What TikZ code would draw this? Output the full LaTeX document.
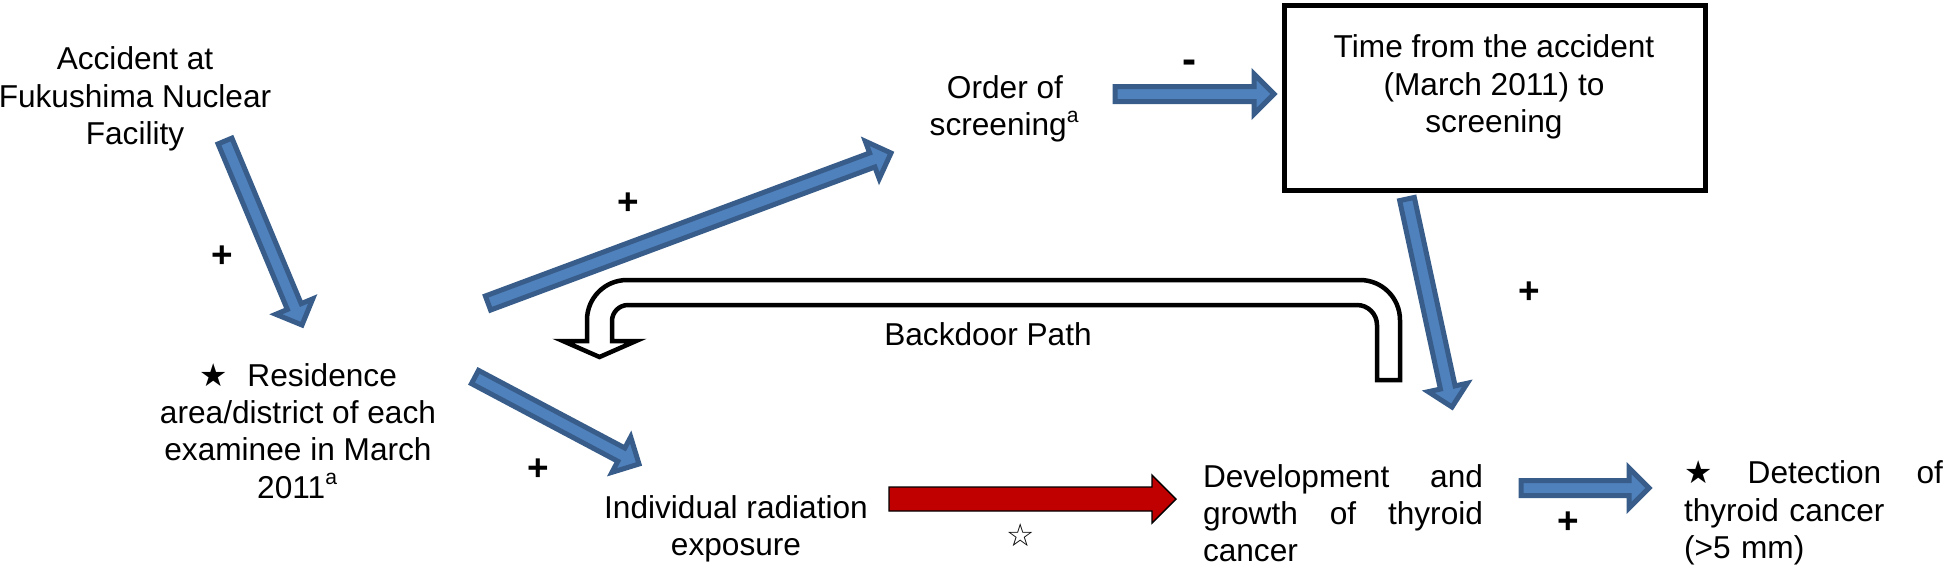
\documentclass[tikz,border=0pt]{standalone}
\usepackage{fontspec}
\setmainfont{Liberation Sans}
\newfontfamily\starfont{DejaVu Sans}
\usetikzlibrary{calc}
\definecolor{arrowblue}{RGB}{79,129,189}
\definecolor{arrowedge}{RGB}{56,93,138}
\definecolor{arrowred}{RGB}{192,0,0}
\newcommand{\blockarrow}[5] % style, tail, tip, shaft half width, head half width
{
	% head base
	\coordinate (hb) at ($(#3)!#5!(#2)$);
	% shaft and head
	\draw[#1] ($(#2)!#4!90:(#3)$) -- ($(hb)!#4!90:(#3)$) -- ($(hb)!#5!90:(#3)$) -- (#3)
		-- ($(hb)!#5!-90:(#3)$) -- ($(hb)!#4!-90:(#3)$) -- ($(#2)!#4!-90:(#3)$) -- cycle;
}

\begin{document}
\begin{tikzpicture}[x=0.1mm, y=-0.1mm,
	txt/.style={inner sep=0pt, align=center, font=\fontsize{9}{10.6}\selectfont},
	sign/.style={inner sep=0pt, font=\fontsize{10.5}{10.5}\bfseries},
	bluearrow/.style={fill=arrowblue, draw=arrowedge, line width=0.5mm},
	redarrow/.style={fill=arrowred},
	uturn/.style={fill=white, draw=black, line width=0.45mm},
	framebox/.style={draw, line width=0.5mm, minimum width=42.1mm, minimum height=18.5mm, inner sep=0pt}]
	% size 1951 x 564, one unit per pixel
	\useasboundingbox (0,0) rectangle (1951,564);
	
	% boxes and texts
	\node[txt] (acc) at (135,99) {Accident at\\Fukushima Nuclear\\Facility};
	\node[txt] (res) at (298,431) {{\starfont ★}\hspace{2mm}Residence\\area/district of each\\examinee in March\\2011\textsuperscript{a}};
	\node[txt] (order) at (1005,109) {Order of\\screening\textsuperscript{a}};
	\node[framebox] (time) at (1494.5,97.5) {};
	\node[txt] (timetxt) at (1494,87) {Time from the accident\\(March 2011) to\\screening};
	\node[txt] (indiv) at (736,529) {Individual radiation\\exposure};
	\node[txt, text width=2.8cm, align=left] (dev) at (1343,513) {\makebox[2.8cm][l]{Development\hfill and}\\\makebox[2.8cm][l]{growth\hfill of\hfill thyroid}\\cancer};
	\node[txt, text width=2.59cm, align=left] (det) at (1813.5,513) {\makebox[2.59cm][l]{{\starfont ★}\hfill Detection\hfill of}\\thyroid cancer\\(>5 mm)};
	
	% backdoor path
	\draw[uturn] (1377,380) -- (1400,380) -- (1400,320) .. controls (1400,297.9) and (1382.1,280) .. (1360,280)
		-- (627,280) .. controls (604.9,280) and (587,297.9) .. (587,320) -- (587,341) -- (563,341) -- (599.5,357)
		-- (636,341) -- (612,341) -- (612,321) .. controls (612,312.2) and (619.2,305) .. (628,305)
		-- (1357,305) .. controls (1368,305) and (1377,314) .. (1377,325) -- cycle;
	\node[txt] (backdoor) at (988,334) {Backdoor Path};
	
	% arrow ends
	\coordinate (a1s) at (225,141);
	\coordinate (a1e) at (302,325);
	\coordinate (a2s) at (488,303);
	\coordinate (a2e) at (891,153);
	\coordinate (a3s) at (475,377);
	\coordinate (a3e) at (639,464);
	\coordinate (a4s) at (1115,94);
	\coordinate (a4e) at (1274,94);
	\coordinate (a5s) at (1407,199);
	\coordinate (a5e) at (1452,407);
	\coordinate (a6s) at (1521,488);
	\coordinate (a6e) at (1649,488);
	\coordinate (r1s) at (889,499);
	\coordinate (r1e) at (1176,499);
	
	\blockarrow{bluearrow}{a1s}{a1e}{0.75mm}{2mm};
	\blockarrow{bluearrow}{a2s}{a2e}{0.75mm}{2mm};
	\blockarrow{bluearrow}{a3s}{a3e}{0.75mm}{2mm};
	\blockarrow{bluearrow}{a4s}{a4e}{0.75mm}{2mm};
	\blockarrow{bluearrow}{a5s}{a5e}{0.75mm}{2mm};
	\blockarrow{bluearrow}{a6s}{a6e}{0.75mm}{2mm};
	\blockarrow{redarrow}{r1s}{r1e}{1.2mm}{2.4mm};
	
	% signs
	\node[sign] (p1) at (222,257) {+};
	\node[sign] (p2) at (628,204) {+};
	\node[sign] (p3) at (538,470) {+};
	\node[sign] (p4) at (1529,293) {+};
	\node[sign] (p5) at (1568,523) {+};
	\node[sign, font=\fontsize{12}{12}\bfseries] (m1) at (1190,67) {-};
	\node[sign, font=\fontsize{9}{10.6}\starfont] (s1) at (1021,535) {☆};
	
\end{tikzpicture}
\end{document}
